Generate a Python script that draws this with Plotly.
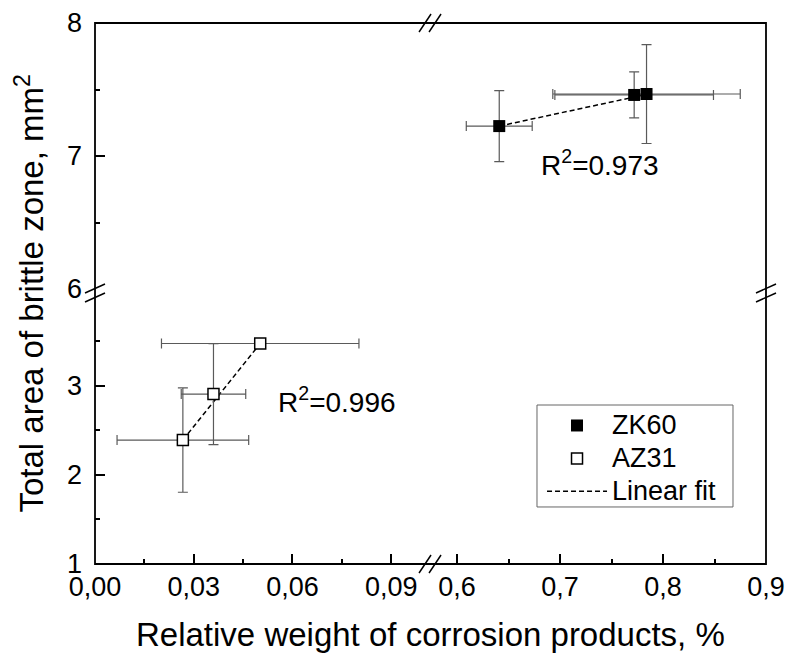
import plotly.graph_objects as go

# ZK60 (upper-right block of the broken axes)
zk60_x = [0.641, 0.772, 0.784]
zk60_y = [7.225, 7.459, 7.466]
zk60_xerr = [0.032, 0.077, 0.091]
zk60_yerr = [0.267, 0.173, 0.372]
zk60_fit_x = [0.641, 0.784]
zk60_fit_y = [7.225, 7.463]

# AZ31 (lower-left block)
az31_x = [0.0267, 0.0360, 0.0502]
az31_y = [2.389, 2.904, 3.471]
az31_xerr = [0.0200, 0.0098, 0.0300]
az31_yerr = [0.585, 0.566, 0.02]
az31_fit_x = [0.0267, 0.0502]
az31_fit_y = [2.389, 3.471]

r2_labels = ["R<sup>2</sup>=0.973", "R<sup>2</sup>=0.996"]

FONT = "Liberation Sans, Arial, sans-serif"
ERR = "#5a5a5a"
DASH = "5px,3px"


def legend_name(s):
    # bigger text than the legend's own font so the rows stay tight
    return f"<span style='font-size:27px'>{s}</span>"


fig = go.Figure()

# linear fits (below the markers)
fig.add_trace(go.Scatter(x=zk60_fit_x, y=zk60_fit_y, xaxis="x2", yaxis="y2",
                         mode="lines", line=dict(color="black", width=1.5, dash=DASH),
                         showlegend=False, hoverinfo="skip"))
fig.add_trace(go.Scatter(x=az31_fit_x, y=az31_fit_y, xaxis="x", yaxis="y",
                         mode="lines", line=dict(color="black", width=1.5, dash=DASH),
                         showlegend=False, hoverinfo="skip"))

fig.add_trace(go.Scatter(
    x=zk60_x, y=zk60_y, xaxis="x2", yaxis="y2", mode="markers", name=legend_name("ZK60"),
    marker=dict(symbol="square", size=12, color="black"),
    error_x=dict(type="data", array=zk60_xerr, color=ERR, thickness=1.2, width=5),
    error_y=dict(type="data", array=zk60_yerr, color=ERR, thickness=1.2, width=5),
))
fig.add_trace(go.Scatter(
    x=az31_x, y=az31_y, xaxis="x", yaxis="y", mode="markers", name=legend_name("AZ31"),
    marker=dict(symbol="square", size=11, color="white", line=dict(color="black", width=1.5)),
    error_x=dict(type="data", array=az31_xerr, color=ERR, thickness=1.2, width=5),
    error_y=dict(type="data", array=az31_yerr, color=ERR, thickness=1.2, width=5),
))
# legend entry for the fit line
fig.add_trace(go.Scatter(x=[None], y=[None], mode="lines", name=legend_name("Linear fit"),
                         line=dict(color="black", width=1.5, dash=DASH)))

tick_font = dict(family=FONT, size=27, color="black")
common = dict(showgrid=False, zeroline=False, showline=False, ticks="inside",
              ticklen=10, tickwidth=1.5, tickcolor="black", tickfont=tick_font,
              automargin=False)

XSPLIT = 0.4993
fig.update_layout(
    width=786, height=653,
    margin=dict(l=95, r=20, t=23, b=89, autoexpand=False),
    paper_bgcolor="white", plot_bgcolor="white",
    separators=",.",
    font=dict(family=FONT, color="black"),
    xaxis=dict(domain=[0, XSPLIT], range=[0, 0.1018], anchor="y",
               tickmode="linear", tick0=0, dtick=0.03, tickformat=".2f",
               ticklabelstandoff=4,
               minor=dict(ticks="inside", ticklen=5, tickwidth=1.5, tickcolor="black",
                          tick0=0, dtick=0.015), **common),
    xaxis2=dict(domain=[XSPLIT, 1], range=[0.5738, 0.9], anchor="y",
                tickmode="linear", tick0=0.6, dtick=0.1, tickformat=".1f",
                ticklabelstandoff=4,
                minor=dict(ticks="inside", ticklen=5, tickwidth=1.5, tickcolor="black",
                           tick0=0.6, dtick=0.05), **common),
    yaxis=dict(domain=[0, 0.4866], range=[1, 3.95], anchor="x",
               tickmode="linear", tick0=1, dtick=1, ticklabelstandoff=12,
               minor=dict(ticks="inside", ticklen=5, tickwidth=1.5, tickcolor="black",
                          tick0=1, dtick=0.5), **common),
    yaxis2=dict(domain=[0.5083, 1], range=[6, 8], anchor="x",
                tickmode="linear", tick0=6, dtick=1, ticklabelstandoff=12,
                minor=dict(ticks="inside", ticklen=5, tickwidth=1.5, tickcolor="black",
                           tick0=6, dtick=0.5), **common),
    legend=dict(x=0.6662, y=0.2957, xanchor="left", yanchor="top",
                bgcolor="rgba(0,0,0,0)", borderwidth=0,
                font=dict(family=FONT, size=23, color="black"),
                itemwidth=60, tracegroupgap=0),
)

# frame
fig.add_shape(type="rect", xref="paper", yref="paper", x0=0, y0=0, x1=1, y1=1,
              line=dict(color="black", width=1.8), layer="above")
# legend box
fig.add_shape(type="rect", xref="paper", yref="paper", x0=0.6587, y0=0.1054,
              x1=0.9508, y1=0.2939, line=dict(color="#666", width=1),
              fillcolor="white", layer="below")

# axis break marks
W, H = 671.0, 541.0
def brk(xc, yc, dx, dy, ox, oy):
    for s in (-1, 1):
        fig.add_shape(type="line", xref="paper", yref="paper",
                      x0=xc - dx / W + s * ox / W, y0=yc - dy / H + s * oy / H,
                      x1=xc + dx / W + s * ox / W, y1=yc + dy / H + s * oy / H,
                      line=dict(color="black", width=1.5))

YB = (564 - 293) / H
for xc in (0, 1):
    brk(xc, YB, 10, 4.5, 0, 4.5)
for yc in (0, 1):
    brk(XSPLIT, yc, 6, 9, 5, 0)

# R^2 labels
fig.add_annotation(x=0.680, y=6.95, xref="x2", yref="y2", text=r2_labels[0],
                   showarrow=False, xanchor="left", yanchor="middle",
                   font=dict(family=FONT, size=28, color="black"))
fig.add_annotation(x=0.055, y=2.835, xref="x", yref="y", text=r2_labels[1],
                   showarrow=False, xanchor="left", yanchor="middle",
                   font=dict(family=FONT, size=28, color="black"))

# axis titles centred on the whole broken axis
fig.add_annotation(x=0.5, y=0, xref="paper", yref="paper", yshift=-50,
                   text="Relative weight of corrosion products, %", showarrow=False,
                   xanchor="center", yanchor="top",
                   font=dict(family=FONT, size=33, color="black"))
fig.add_annotation(x=0, y=0.5, xref="paper", yref="paper", xshift=-43,
                   text="Total area of brittle zone, mm<sup>2</sup>", showarrow=False,
                   textangle=-90, xanchor="right", yanchor="middle",
                   font=dict(family=FONT, size=33, color="black"))

# drop the default body margin so the figure sits at the window's corner
fig.write_html("out.html", config={"displayModeBar": False},
               post_script="document.body.style.margin='0';")
